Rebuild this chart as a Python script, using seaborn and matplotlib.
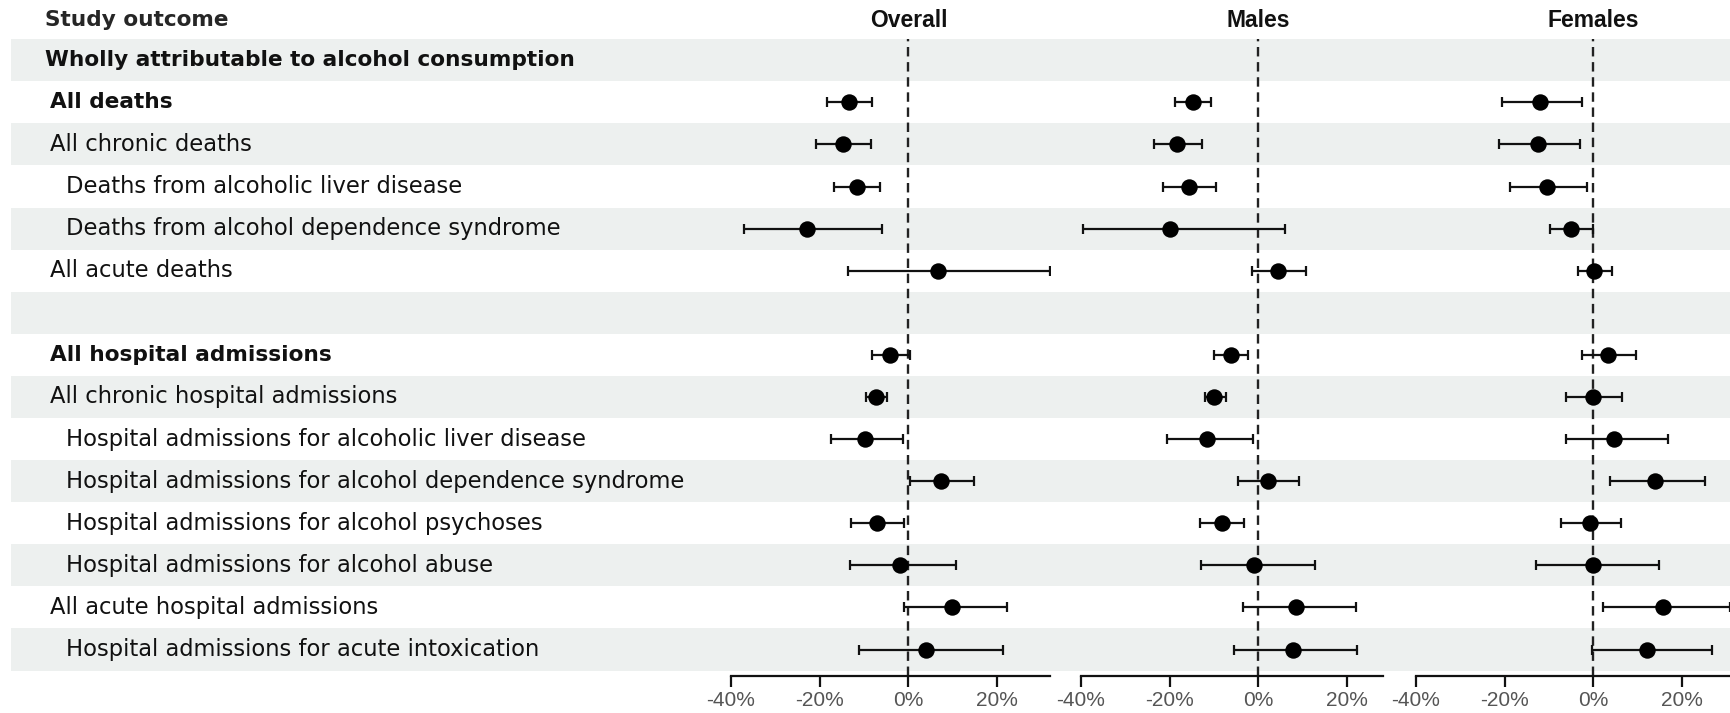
import numpy as np
import pandas as pd
import matplotlib
matplotlib.use('Agg')
import matplotlib.pyplot as plt
import matplotlib.transforms as mtransforms
import seaborn as sns

nan = np.nan

# Row labels of the forest plot (top to bottom)
labels = [
    'Wholly attributable to alcohol consumption',
    'All deaths',
    'All chronic deaths',
    'Deaths from alcoholic liver disease',
    'Deaths from alcohol dependence syndrome',
    'All acute deaths',
    '',
    'All hospital admissions',
    'All chronic hospital admissions',
    'Hospital admissions for alcoholic liver disease',
    'Hospital admissions for alcohol dependence syndrome',
    'Hospital admissions for alcohol psychoses',
    'Hospital admissions for alcohol abuse',
    'All acute hospital admissions',
    'Hospital admissions for acute intoxication',
]
levels = [0, 1, 1, 2, 2, 1, 1, 1, 1, 2, 2, 2, 2, 1, 2]
bold_rows = [0, 1, 7]

panels = ['Overall', 'Males', 'Females']

# estimates and 95% CI (% change)
overall_est = [nan, -13.3, -14.8, -11.7, -22.9, 6.6, nan, -4.1, -7.2, -9.8, 7.3, -7.1, -2.0, 9.9, 3.9]
overall_lo = [nan, -18.3, -20.8, -16.7, -37.0, -13.7, nan, -8.3, -9.5, -17.4, 0.3, -12.9, -13.2, -1.1, -11.1]
overall_hi = [nan, -8.2, -8.4, -6.3, -5.9, 31.9, nan, 0.4, -4.9, -1.2, 14.8, -1.1, 10.8, 22.2, 21.3]

males_est = [nan, -14.8, -18.3, -15.6, -20.0, 4.4, nan, -6.2, -9.9, -11.5, 2.1, -8.3, -1.0, 8.5, 7.7]
males_lo = [nan, -18.8, -23.6, -21.4, -39.5, -1.5, nan, -10.0, -12.0, -20.6, -4.5, -13.2, -12.9, -3.4, -5.4]
males_hi = [nan, -10.6, -12.8, -9.5, 6.1, 10.7, nan, -2.3, -7.4, -1.3, 9.2, -3.2, 12.7, 22.0, 22.3]

females_est = [nan, -12.0, -12.6, -10.5, -5.0, 0.2, nan, 3.2, 0.0, 4.7, 14.0, -0.8, 0.0, 15.6, 12.1]
females_lo = [nan, -20.5, -21.2, -18.8, -9.7, -3.5, nan, -2.6, -6.1, -6.2, 3.8, -7.2, -12.9, 2.1, -0.3]
females_hi = [nan, -2.5, -3.1, -1.4, -0.2, 4.2, nan, 9.5, 6.4, 16.8, 25.1, 6.2, 14.9, 30.9, 26.8]

x_ticks = [-40, -20, 0, 20]
x_ticklabels = ['-40%', '-20%', '0%', '20%']
panel_xlims = {'Overall': (-40, 32), 'Males': (-40, 28), 'Females': (-40, 32)}

frames = []
for name, est, lo, hi in [('Overall', overall_est, overall_lo, overall_hi),
                          ('Males', males_est, males_lo, males_hi),
                          ('Females', females_est, females_lo, females_hi)]:
    frames.append(pd.DataFrame({'panel': name, 'row': np.arange(len(labels)),
                                'est': est, 'lo': lo, 'hi': hi}))
df = pd.concat(frames, ignore_index=True).dropna()

sns.set_theme(style='white')
label_font = ['DejaVu Sans']
axis_font = ['Liberation Sans', 'DejaVu Sans']

W, H = 1731, 713
fig = plt.figure(figsize=(W / 100, H / 100), dpi=100)
top_px, bot_px = 39.2, 676
n = len(labels)
row_px = 42.09
ylim = (n - 0.5 + (bot_px - top_px - n * row_px) / row_px, -0.5)
ax_b = (H - bot_px) / H
ax_h = (bot_px - top_px) / H

# background with stripes and labels
bg = fig.add_axes([11 / W, ax_b, 1 - 11 / W, ax_h])
bg.set_xlim(0, 1)
bg.set_ylim(*ylim)
bg.axis('off')
for i in range(0, n, 2):
    bg.axhspan(i - 0.5, i + 0.5, color='#edf0ef', lw=0, zorder=0)

trans = mtransforms.blended_transform_factory(fig.transFigure, bg.transData)
indent_px = {0: 45, 1: 50, 2: 66}
bg.text(45 / W, -0.95, 'Study outcome', transform=trans, ha='left', va='center',
        fontsize=15.6, fontweight='bold', family=label_font, clip_on=False)
for i, (lab, lev) in enumerate(zip(labels, levels)):
    if not lab:
        continue
    is_bold = i in bold_rows
    bg.text(indent_px[lev] / W, i, lab, transform=trans, ha='left', va='center',
            fontsize=15.6 if is_bold else 16.3, fontweight='bold' if is_bold else 'normal',
            family=label_font, color='#111111')

# panels
px_per_pct = 4.435
panel_left = {'Overall': 731, 'Males': 1081, 'Females': 1416}
for name in panels:
    lo_x, hi_x = panel_xlims[name]
    width = (hi_x - lo_x) * px_per_pct
    ax = fig.add_axes([panel_left[name] / W, ax_b, width / W, ax_h])
    ax.set_facecolor('none')
    sub = df[df['panel'] == name]
    ax.axvline(0, color='#222222', lw=1.7, ls=(0, (4, 2.4)), zorder=1)
    ax.errorbar(sub['est'], sub['row'], xerr=[sub['est'] - sub['lo'], sub['hi'] - sub['est']],
                fmt='none', ecolor='#111111', elinewidth=1.6, capsize=3.8, capthick=1.6, zorder=2)
    sns.scatterplot(data=sub, x='est', y='row', ax=ax, color='black', s=140,
                    edgecolor='black', linewidth=0, zorder=3, legend=False)
    ax.set_xlim(lo_x, hi_x)
    ax.set_ylim(*ylim)
    ax.set_yticks([])
    ax.set_xticks(x_ticks)
    ax.set_xticklabels(x_ticklabels, family=axis_font)
    ax.set_xlabel('')
    ax.set_ylabel('')
    for s in ['left', 'top', 'right']:
        ax.spines[s].set_visible(False)
    ax.spines['bottom'].set_linewidth(1.6)
    ax.spines['bottom'].set_color('#111111')
    ax.tick_params(axis='x', direction='out', length=8, width=1.6, color='#111111',
                   labelsize=15, labelcolor='#555555', pad=3, bottom=True)
    ax.text(0, 1 + 19 / (bot_px - top_px), name, transform=ax.get_xaxis_transform(),
            ha='center', va='center', fontsize=16.5, fontweight='bold',
            family=axis_font, color='#111111')

plt.savefig('out.png', dpi=100)
